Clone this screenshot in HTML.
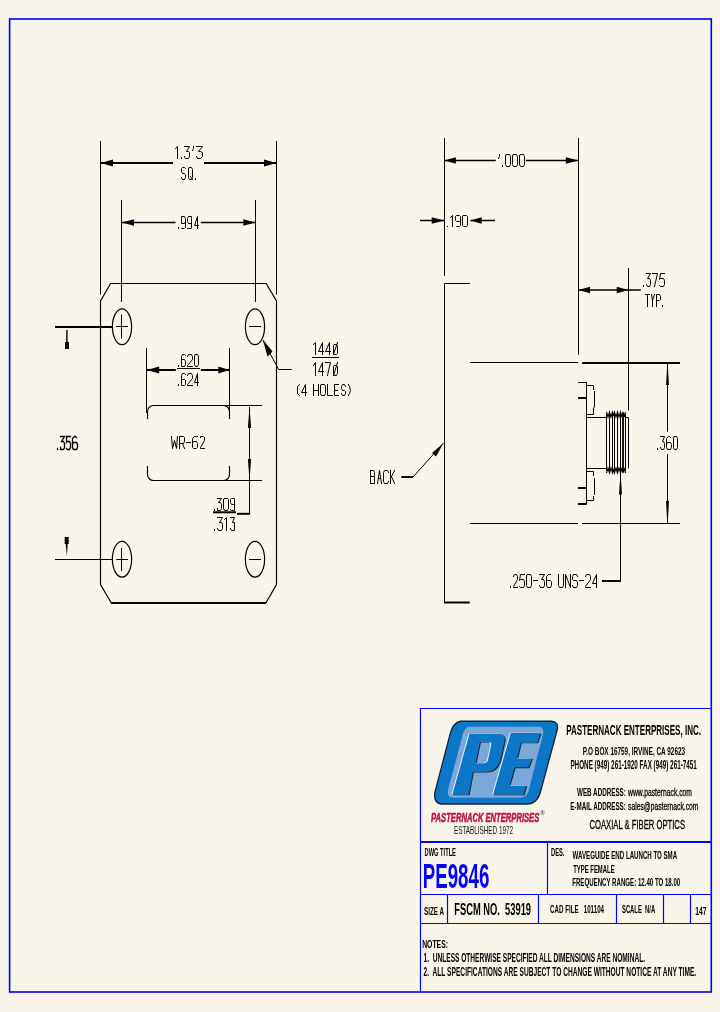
<!DOCTYPE html>
<html><head><meta charset="utf-8"><style>
html,body{margin:0;padding:0;background:#f9f5eb;}
svg{display:block;will-change:transform;}
text{font-family:"Liberation Sans",sans-serif;fill:#000;}
.cad{font-weight:normal;fill:#000;}
.cadb{font-weight:normal;fill:#000;}
.tb{font-weight:bold;fill:#000;}
.tbn{font-weight:normal;fill:#111;}
.tbm{font-weight:normal;fill:#000;stroke:#000;stroke-width:0.3px;}
.red{font-weight:bold;font-style:italic;fill:#b81845;stroke:#b81845;stroke-width:0.55px;}
.pe{font-weight:bold;fill:#0000ff;}
</style></head><body>
<svg width="720" height="1012" viewBox="0 0 720 1012">
<rect x="9.6" y="19" width="701.7" height="973" fill="none" stroke="#0000ff" stroke-width="1.6"/>
<g stroke="#000" stroke-width="1" fill="none">
<path d="M100.5 141V294.5 M276.5 141V294.5 M121.5 200V302 M255.5 200V302"/>
<path d="M100.5 163H173 M204 163H276.5" stroke-width="2"/>
<path d="M121.5 222.5H175.5 M200.8 222.5H255.5" stroke-width="1.3"/>
<path d="M100.5 301 L110.6 283.5 H266.2 L276.5 301 V584.5 L265.8 603 H111.3 L100.5 584.5 Z" stroke-width="1.2"/>
<path d="M111.3 603 H265.8" stroke-width="2"/>
<ellipse cx="122" cy="326.8" rx="9.6" ry="17.9" stroke-width="1.2"/>
<ellipse cx="255" cy="326.8" rx="9.6" ry="17.9" stroke-width="1.2"/>
<ellipse cx="122" cy="559.2" rx="9.6" ry="17.9" stroke-width="1.2"/>
<ellipse cx="255" cy="559.2" rx="9.6" ry="17.9" stroke-width="1.2"/>
<path d="M116 326.5H128 M121.5 314.5V338.5 M116.3 559.5H128 M121.5 548V571 M249 326.5H261 M249 559.5H261"/>
<path d="M55 327H112.3" stroke-width="2"/>
<path d="M55 559.5H112.3"/>
<path d="M146.5 348V413 M229.5 348V418"/>
<path d="M146.5 370H175.8 M200.8 370H229.5" stroke-width="2"/>
<path d="M177 368.5H200"/>
<path d="M147.5 419 V412 A6 6 0 0 1 153.5 405.5 H223.5 A6 6 0 0 1 229.5 411.5 V419 M147.5 466 V474.5 A6 6 0 0 0 153.5 480.5 H223.5 A6 6 0 0 0 229.5 474.5 V466" stroke-width="1.2"/>
<path d="M223 405.5H262 M223 480.5H262"/>
<path d="M249.5 407V513.5"/>
<path d="M213 512.3H236" stroke-width="2"/><path d="M237 513.8H250.3" stroke-width="2"/>
<path d="M263 340.5 L278.7 369.5 H291.7"/>
<path d="M312 357.5H339.2"/>
<path d="M444.5 138V275.8 M578.5 138V354.7 M628.5 268V410.5"/>
<path d="M444.5 160.5H495.8 M525.8 160.5H578.5" stroke-width="1.3"/>
<path d="M420 220.5H444 M470.3 220.5H495" stroke-width="1.3"/>
<path d="M578.5 290H640.8" stroke-width="1.3"/>
<path d="M470 283.5H444.5V602.5"/><path d="M444 602.5H469.7" stroke-width="2"/>
<path d="M470 362.5H578 M470 523.5H578 M582 523.5H680"/>
<path d="M582.2 363H680" stroke-width="2"/>
<path d="M667.5 363V431.7 M667.5 454V523"/>
<path d="M620.5 473V581"/><path d="M602 581H621" stroke-width="2"/>
<path d="M401.3 477H413" stroke-width="2"/><path d="M413 477L443.3 443.3"/>
<path d="M578 382.5H586.5 M586.5 382V504.5 M586.5 385.5H593.5V390 M594.5 391V407.5 M593.5 407.5V414.5H586.5 M586.5 417.5H606.5 M586.5 468.5H606.5 M628.5 417.5V468.5 M586.5 471.5H593.5V476 M594.5 478V495 M593.5 496V500.5H586.5"/>
<path d="M578 398H586.5 M578 488H586.5 M578 504H586.5" stroke-width="2"/>
<path d="M606.5 414V471"/>
<path d="M609.5 414V471"/>
<path d="M612.5 414V471"/>
<path d="M614.5 414V471"/>
<path d="M617.5 414V471"/>
<path d="M620.5 414V471"/>
<path d="M625.5 414V471"/>
<path d="M623 413V472" stroke-width="1.8"/>
<path d="M625.5 417.5H628.5"/>
<polyline points="606.5,412 608,417 609.5,412 611,417 612.5,412 613.5,416 614.5,412 616,417 617.5,412 619,417 620.5,412 621.8,417 623,412 624.2,417 625.5,412" stroke-width="1.1"/>
<polyline points="606.5,473 608,468 609.5,473 611,468 612.5,473 613.5,469 614.5,473 616,468 617.5,473 619,468 620.5,473 621.8,468 623,473 624.2,468 625.5,473" stroke-width="1.1"/>
</g>
<g fill="#000" stroke="none">
<polygon points="100.5,163 113,159.4 113,166.6"/>
<polygon points="276.5,163 264,159.4 264,166.6"/>
<polygon points="121.5,222.5 134,219.3 134,225.7"/>
<polygon points="255.5,222.5 243.3,219.3 243.3,225.7"/>
<polygon points="147,370 159.2,366.5 159.2,373.5"/>
<polygon points="229.5,370 218.3,366.5 218.3,373.5"/>
<polygon points="444.5,160.5 455.8,157.2 455.8,163.8"/>
<polygon points="578.5,160.5 565.8,157.2 565.8,163.8"/>
<polygon points="444.5,220.5 431.7,217.2 431.7,223.8"/>
<polygon points="470.3,220.5 481.7,217.2 481.7,223.8"/>
<polygon points="578.5,290 590,286.7 590,293.3"/>
<polygon points="628.5,290 616.7,286.7 616.7,293.3"/>
<rect x="65" y="342" width="4" height="7"/><path d="M66.2 330H67.6V342H66.2Z"/>
<rect x="64.7" y="537" width="4" height="7"/><polygon points="65.7,544 67.7,544 66.9,556"/>
<polygon points="248.9,414 250.1,414 251.1,428 247.9,428"/>
<polygon points="248.9,473 250.1,473 251.1,459 247.9,459"/>
<polygon points="666.9,370 668.1,370 669.0,385 666.0,385"/>
<polygon points="666.9,517 668.1,517 669.0,501 666.0,501"/>
<polygon points="619.9,481 621.1,481 622.0,494.5 619.0,494.5"/>
<polygon points="262.8,339.6 272.5,351.5 267.5,356.5"/>
<polygon points="443.3,443.3 432,453 436,456.5"/>
</g>
<g stroke="#0000ff" fill="none" stroke-width="1.2">
<path d="M420.5 992V708.5 H711"/>
<path d="M420.5 842H711" stroke-width="2"/>
<path d="M547.5 842V894.5 M420.5 894.5H711 M420.5 923.5H711 M447.5 894.5V923.5 M538.5 894.5V923.5 M616.5 894.5V923.5 M663.5 894.5V923.5 M690.5 894.5V923.5"/>
</g>
<g id="logo">
<path d="M460.5 721.25 H551 Q559 721.5 557.3 729.5 L540.7 791 Q537.5 804 527 804 H441 Q433.8 803 434.7 793 L450 734.4 Q453 722.5 460.5 721.25Z" fill="#0b77c6" stroke="#16233a" stroke-width="1.3"/>
<path d="M469.5 726.8 H538 Q544.5 727 543.2 733.5 L528.6 791 Q527 797.8 520 797.8 H453 Q446.5 797.5 448 790 L462.6 735 Q464.5 727 469.5 726.8Z" fill="#7ba8d9"/>
<g fill-rule="evenodd" fill="#16233a" transform="translate(0.9 0.9)"><path d="M469.5 733.8 H499 Q506 734 504.5 741 L501 757 Q498 771.5 487 771.5 H472.9 L468.75 794.4 H452.4 Z M480 741.7 H488.5 Q491.8 741.7 491.1 745 L488 760 Q487 763.3 483.5 763.3 H475.6 Z"/><path d="M510.8 733 H540.7 L537.2 742.4 H520.9 L517.1 758.4 H532 L528.5 767.3 H514.6 L509.4 785.7 H526.4 L523.6 794.4 H493.1 Z"/></g>
<g fill-rule="evenodd" fill="#eef4ff" transform="translate(-0.9 -0.2)"><path d="M469.5 733.8 H499 Q506 734 504.5 741 L501 757 Q498 771.5 487 771.5 H472.9 L468.75 794.4 H452.4 Z M480 741.7 H488.5 Q491.8 741.7 491.1 745 L488 760 Q487 763.3 483.5 763.3 H475.6 Z"/><path d="M510.8 733 H540.7 L537.2 742.4 H520.9 L517.1 758.4 H532 L528.5 767.3 H514.6 L509.4 785.7 H526.4 L523.6 794.4 H493.1 Z"/></g>
<g fill-rule="evenodd" fill="#0b77c6"><path d="M469.5 733.8 H499 Q506 734 504.5 741 L501 757 Q498 771.5 487 771.5 H472.9 L468.75 794.4 H452.4 Z M480 741.7 H488.5 Q491.8 741.7 491.1 745 L488 760 Q487 763.3 483.5 763.3 H475.6 Z"/><path d="M510.8 733 H540.7 L537.2 742.4 H520.9 L517.1 758.4 H532 L528.5 767.3 H514.6 L509.4 785.7 H526.4 L523.6 794.4 H493.1 Z"/></g>
</g>
<text x="540.5" y="814.5" font-size="5.5" fill="#555" font-family="Liberation Sans">®</text>
<path id="t1" d="M 175.5,148.5 L 177.5,146.5 L 177.5,158.5 M 181.5,157.5 L 181.5,158.5 M 184.5,146.5 L 189.5,146.5 L 186.5,151.5 L 188.5,151.5 L 189.5,152.5 L 189.5,156.5 L 188.5,158.5 L 185.5,158.5 L 184.5,156.5 M 193.5,146.5 L 193.5,148.5 L 192.5,150.5 M 196.5,146.5 L 202.5,146.5 L 198.5,151.5 L 200.5,151.5 L 202.5,152.5 L 202.5,156.5 L 200.5,158.5 L 197.5,158.5 L 196.5,156.5" fill="none" stroke="#000" stroke-width="1.0" stroke-linecap="square" stroke-linejoin="miter"/>
<path id="t2" d="M 185.5,168.5 L 184.5,167.5 L 182.5,167.5 L 181.5,168.5 L 181.5,171.5 L 182.5,173.5 L 184.5,173.5 L 185.5,174.5 L 185.5,177.5 L 184.5,179.5 L 182.5,179.5 L 181.5,177.5 M 189.5,167.5 L 191.5,167.5 L 192.5,169.5 L 192.5,177.5 L 191.5,179.5 L 189.5,179.5 L 188.5,177.5 L 188.5,169.5 Z M 190.5,176.5 L 192.5,179.5 M 195.5,178.5 L 195.5,179.5" fill="none" stroke="#000" stroke-width="1.0" stroke-linecap="square" stroke-linejoin="miter"/>
<path id="t3" d="M 178.5,227.5 L 178.5,228.5 M 185.5,221.5 L 184.5,223.5 L 181.5,223.5 L 181.5,221.5 L 181.5,218.5 L 181.5,216.5 L 184.5,216.5 L 185.5,218.5 L 185.5,227.5 L 184.5,228.5 L 181.5,228.5 L 181.5,228.5 M 191.5,221.5 L 191.5,223.5 L 188.5,223.5 L 187.5,221.5 L 187.5,218.5 L 188.5,216.5 L 191.5,216.5 L 191.5,218.5 L 191.5,227.5 L 191.5,228.5 L 188.5,228.5 L 187.5,228.5 M 197.5,228.5 L 197.5,216.5 L 194.5,225.5 L 198.5,225.5" fill="none" stroke="#000" stroke-width="1.0" stroke-linecap="square" stroke-linejoin="miter"/>
<path id="t4" d="M 178.5,365.5 L 178.5,366.5 M 185.5,355.5 L 184.5,354.5 L 182.5,354.5 L 181.5,356.5 L 181.5,364.5 L 181.5,366.5 L 184.5,366.5 L 185.5,364.5 L 185.5,361.5 L 184.5,359.5 L 181.5,359.5 L 181.5,361.5 M 187.5,356.5 L 188.5,354.5 L 191.5,354.5 L 192.5,356.5 L 192.5,359.5 L 187.5,365.5 L 187.5,366.5 L 192.5,366.5 M 195.5,354.5 L 197.5,354.5 L 198.5,356.5 L 198.5,364.5 L 197.5,366.5 L 195.5,366.5 L 194.5,364.5 L 194.5,356.5 Z" fill="none" stroke="#000" stroke-width="1.0" stroke-linecap="square" stroke-linejoin="miter"/>
<path id="t5" d="M 178.5,384.5 L 178.5,385.5 M 185.5,374.5 L 184.5,373.5 L 182.5,373.5 L 181.5,375.5 L 181.5,384.5 L 181.5,385.5 L 184.5,385.5 L 185.5,384.5 L 185.5,380.5 L 184.5,379.5 L 181.5,379.5 L 181.5,380.5 M 187.5,375.5 L 188.5,373.5 L 191.5,373.5 L 192.5,375.5 L 192.5,378.5 L 187.5,384.5 L 187.5,385.5 L 192.5,385.5 M 197.5,385.5 L 197.5,373.5 L 194.5,382.5 L 198.5,382.5" fill="none" stroke="#000" stroke-width="1.0" stroke-linecap="square" stroke-linejoin="miter"/>
<path id="t6" d="M 171.5,436.5 L 172.5,448.5 L 174.5,440.5 L 176.5,448.5 L 177.5,436.5 M 179.5,448.5 L 179.5,436.5 L 183.5,436.5 L 184.5,437.5 L 184.5,441.5 L 183.5,443.5 L 179.5,443.5 M 182.5,443.5 L 184.5,448.5 M 186.5,442.5 L 190.5,442.5 M 197.5,436.5 L 196.5,436.5 L 194.5,436.5 L 192.5,438.5 L 192.5,447.5 L 193.5,448.5 L 196.5,448.5 L 197.5,447.5 L 197.5,443.5 L 196.5,441.5 L 193.5,441.5 L 192.5,443.5 M 200.5,437.5 L 200.5,436.5 L 203.5,436.5 L 204.5,437.5 L 204.5,440.5 L 200.5,447.5 L 200.5,448.5 L 204.5,448.5" fill="none" stroke="#000" stroke-width="1.0" stroke-linecap="square" stroke-linejoin="miter"/>
<path id="t7" d="M 214.5,509.5 L 214.5,510.5 M 217.5,498.5 L 221.5,498.5 L 218.5,502.5 L 220.5,502.5 L 221.5,504.5 L 221.5,508.5 L 220.5,510.5 L 217.5,510.5 L 217.5,508.5 M 224.5,498.5 L 227.5,498.5 L 228.5,499.5 L 228.5,508.5 L 227.5,510.5 L 224.5,510.5 L 223.5,508.5 L 223.5,499.5 Z M 234.5,502.5 L 234.5,504.5 L 231.5,504.5 L 230.5,502.5 L 230.5,499.5 L 231.5,498.5 L 234.5,498.5 L 234.5,499.5 L 234.5,508.5 L 234.5,510.5 L 231.5,510.5 L 230.5,509.5" fill="none" stroke="#000" stroke-width="1.0" stroke-linecap="square" stroke-linejoin="miter"/>
<path id="t8" d="M 214.5,529.5 L 214.5,530.5 M 217.5,517.5 L 222.5,517.5 L 219.5,522.5 L 221.5,522.5 L 222.5,524.5 L 222.5,528.5 L 221.5,530.5 L 218.5,530.5 L 217.5,528.5 M 224.5,519.5 L 226.5,517.5 L 226.5,530.5 M 230.5,517.5 L 234.5,517.5 L 232.5,522.5 L 234.5,522.5 L 234.5,524.5 L 234.5,528.5 L 234.5,530.5 L 231.5,530.5 L 230.5,528.5" fill="none" stroke="#000" stroke-width="1.0" stroke-linecap="square" stroke-linejoin="miter"/>
<path id="t9" d="M 57.5,448.5 L 57.5,449.5 M 60.5,436.5 L 64.5,436.5 L 61.5,441.5 L 63.5,441.5 L 64.5,443.5 L 64.5,447.5 L 63.5,449.5 L 60.5,449.5 L 60.5,447.5 M 70.5,436.5 L 66.5,436.5 L 66.5,442.5 L 67.5,441.5 L 69.5,441.5 L 70.5,443.5 L 70.5,447.5 L 69.5,449.5 L 67.5,449.5 L 66.5,448.5 M 76.5,437.5 L 75.5,436.5 L 74.5,436.5 L 72.5,438.5 L 72.5,447.5 L 73.5,449.5 L 76.5,449.5 L 77.5,447.5 L 77.5,444.5 L 76.5,442.5 L 73.5,442.5 L 72.5,444.5" fill="none" stroke="#000" stroke-width="1.3" stroke-linecap="square" stroke-linejoin="miter"/>
<path id="t10" d="M 313.5,344.5 L 315.5,342.5 L 315.5,354.5 M 322.5,354.5 L 322.5,342.5 L 318.5,351.5 L 323.5,351.5 M 329.5,354.5 L 329.5,342.5 L 325.5,351.5 L 330.5,351.5 M 334.5,344.5 L 336.5,344.5 L 337.5,346.5 L 337.5,353.5 L 336.5,354.5 L 334.5,354.5 L 333.5,353.5 L 333.5,346.5 Z M 337.5,342.5 L 333.5,354.5" fill="none" stroke="#000" stroke-width="1.0" stroke-linecap="square" stroke-linejoin="miter"/>
<path id="t11" d="M 313.5,365.5 L 315.5,362.5 L 315.5,375.5 M 322.5,375.5 L 322.5,362.5 L 318.5,371.5 L 323.5,371.5 M 325.5,362.5 L 330.5,362.5 L 327.5,375.5 M 334.5,365.5 L 336.5,365.5 L 337.5,366.5 L 337.5,373.5 L 336.5,375.5 L 334.5,375.5 L 333.5,373.5 L 333.5,366.5 Z M 337.5,362.5 L 333.5,375.5" fill="none" stroke="#000" stroke-width="1.0" stroke-linecap="square" stroke-linejoin="miter"/>
<path id="t12" d="M 299.5,384.5 L 297.5,386.5 L 297.5,390.5 L 297.5,393.5 L 299.5,395.5 M 305.5,395.5 L 305.5,384.5 L 301.5,392.5 L 306.5,392.5 M 313.5,384.5 L 313.5,395.5 M 318.5,384.5 L 318.5,395.5 M 313.5,390.5 L 318.5,390.5 M 321.5,384.5 L 324.5,384.5 L 325.5,386.5 L 325.5,393.5 L 324.5,395.5 L 321.5,395.5 L 320.5,393.5 L 320.5,386.5 Z M 327.5,384.5 L 327.5,395.5 L 332.5,395.5 M 338.5,384.5 L 334.5,384.5 L 334.5,395.5 L 338.5,395.5 M 334.5,390.5 L 337.5,390.5 M 345.5,386.5 L 344.5,384.5 L 342.5,384.5 L 341.5,386.5 L 341.5,388.5 L 342.5,390.5 L 344.5,390.5 L 345.5,391.5 L 345.5,393.5 L 344.5,395.5 L 342.5,395.5 L 341.5,393.5 M 348.5,384.5 L 349.5,386.5 L 350.5,390.5 L 349.5,393.5 L 348.5,395.5" fill="none" stroke="#000" stroke-width="1.0" stroke-linecap="square" stroke-linejoin="miter"/>
<path id="t13" d="M 447.5,226.5 L 447.5,226.5 M 450.5,217.5 L 452.5,215.5 L 452.5,226.5 M 460.5,220.5 L 459.5,221.5 L 456.5,221.5 L 455.5,220.5 L 455.5,216.5 L 456.5,215.5 L 459.5,215.5 L 460.5,216.5 L 460.5,225.5 L 459.5,226.5 L 456.5,226.5 L 456.5,226.5 M 463.5,215.5 L 466.5,215.5 L 467.5,216.5 L 467.5,225.5 L 466.5,226.5 L 463.5,226.5 L 462.5,225.5 L 462.5,216.5 Z" fill="none" stroke="#000" stroke-width="1.0" stroke-linecap="square" stroke-linejoin="miter"/>
<path id="t14" d="M 499.5,154.5 L 499.5,156.5 L 498.5,158.5 M 502.5,165.5 L 502.5,166.5 M 506.5,154.5 L 509.5,154.5 L 510.5,156.5 L 510.5,164.5 L 509.5,166.5 L 506.5,166.5 L 505.5,164.5 L 505.5,156.5 Z M 513.5,154.5 L 516.5,154.5 L 517.5,156.5 L 517.5,164.5 L 516.5,166.5 L 513.5,166.5 L 512.5,164.5 L 512.5,156.5 Z M 520.5,154.5 L 523.5,154.5 L 524.5,156.5 L 524.5,164.5 L 523.5,166.5 L 520.5,166.5 L 519.5,164.5 L 519.5,156.5 Z" fill="none" stroke="#000" stroke-width="1.0" stroke-linecap="square" stroke-linejoin="miter"/>
<path id="t15" d="M 643.5,285.5 L 643.5,286.5 M 646.5,273.5 L 650.5,273.5 L 647.5,278.5 L 649.5,278.5 L 650.5,280.5 L 650.5,284.5 L 649.5,286.5 L 647.5,286.5 L 646.5,284.5 M 652.5,273.5 L 657.5,273.5 L 654.5,286.5 M 664.5,273.5 L 660.5,273.5 L 659.5,279.5 L 660.5,278.5 L 663.5,278.5 L 664.5,280.5 L 664.5,284.5 L 663.5,286.5 L 660.5,286.5 L 659.5,285.5" fill="none" stroke="#000" stroke-width="1.0" stroke-linecap="square" stroke-linejoin="miter"/>
<path id="t16" d="M 645.5,294.5 L 649.5,294.5 M 647.5,294.5 L 647.5,306.5 M 651.5,294.5 L 652.5,300.5 L 654.5,294.5 M 652.5,300.5 L 652.5,306.5 M 656.5,306.5 L 656.5,294.5 L 659.5,294.5 L 660.5,296.5 L 660.5,299.5 L 659.5,300.5 L 656.5,300.5 M 662.5,305.5 L 662.5,306.5" fill="none" stroke="#000" stroke-width="1.0" stroke-linecap="square" stroke-linejoin="miter"/>
<path id="t17" d="M 657.5,448.5 L 657.5,449.5 M 660.5,436.5 L 664.5,436.5 L 662.5,441.5 L 663.5,441.5 L 664.5,443.5 L 664.5,447.5 L 663.5,449.5 L 661.5,449.5 L 660.5,447.5 M 670.5,437.5 L 669.5,436.5 L 668.5,436.5 L 666.5,438.5 L 666.5,447.5 L 667.5,449.5 L 670.5,449.5 L 671.5,447.5 L 671.5,444.5 L 670.5,442.5 L 667.5,442.5 L 666.5,444.5 M 674.5,436.5 L 676.5,436.5 L 677.5,438.5 L 677.5,447.5 L 676.5,449.5 L 674.5,449.5 L 673.5,447.5 L 673.5,438.5 Z" fill="none" stroke="#000" stroke-width="1.0" stroke-linecap="square" stroke-linejoin="miter"/>
<path id="t18" d="M 510.5,586.5 L 510.5,587.5 M 513.5,576.5 L 514.5,574.5 L 516.5,574.5 L 517.5,576.5 L 517.5,579.5 L 513.5,586.5 L 513.5,587.5 L 517.5,587.5 M 524.5,574.5 L 520.5,574.5 L 519.5,580.5 L 520.5,579.5 L 523.5,579.5 L 524.5,581.5 L 524.5,585.5 L 523.5,587.5 L 520.5,587.5 L 519.5,586.5 M 527.5,574.5 L 530.5,574.5 L 531.5,576.5 L 531.5,585.5 L 530.5,587.5 L 527.5,587.5 L 526.5,585.5 L 526.5,576.5 Z M 533.5,580.5 L 537.5,580.5 M 539.5,574.5 L 544.5,574.5 L 541.5,579.5 L 543.5,579.5 L 544.5,581.5 L 544.5,585.5 L 543.5,587.5 L 540.5,587.5 L 539.5,585.5 M 550.5,574.5 L 549.5,574.5 L 548.5,574.5 L 546.5,576.5 L 546.5,585.5 L 547.5,587.5 L 550.5,587.5 L 551.5,585.5 L 551.5,581.5 L 550.5,580.5 L 547.5,580.5 L 546.5,581.5 M 558.5,574.5 L 558.5,585.5 L 559.5,587.5 L 562.5,587.5 L 563.5,585.5 L 563.5,574.5 M 565.5,587.5 L 565.5,574.5 L 570.5,587.5 L 570.5,574.5 M 577.5,576.5 L 576.5,574.5 L 573.5,574.5 L 572.5,576.5 L 572.5,579.5 L 573.5,580.5 L 576.5,580.5 L 577.5,582.5 L 577.5,585.5 L 576.5,587.5 L 573.5,587.5 L 572.5,585.5 M 579.5,580.5 L 583.5,580.5 M 585.5,576.5 L 586.5,574.5 L 589.5,574.5 L 590.5,576.5 L 590.5,579.5 L 585.5,586.5 L 585.5,587.5 L 590.5,587.5 M 596.5,587.5 L 596.5,574.5 L 592.5,583.5 L 596.5,583.5" fill="none" stroke="#000" stroke-width="1.0" stroke-linecap="square" stroke-linejoin="miter"/>
<path id="t19" d="M 370.5,470.5 L 370.5,483.5 L 374.5,483.5 L 374.5,481.5 L 374.5,478.5 L 374.5,476.5 L 370.5,476.5 M 370.5,470.5 L 373.5,470.5 L 374.5,472.5 L 374.5,475.5 L 373.5,476.5 M 377.5,483.5 L 379.5,470.5 L 381.5,483.5 M 378.5,478.5 L 380.5,478.5 M 388.5,472.5 L 387.5,470.5 L 384.5,470.5 L 383.5,472.5 L 383.5,481.5 L 384.5,483.5 L 387.5,483.5 L 388.5,481.5 M 390.5,470.5 L 390.5,483.5 M 394.5,470.5 L 390.5,478.5 M 391.5,476.5 L 394.5,483.5" fill="none" stroke="#000" stroke-width="1.0" stroke-linecap="square" stroke-linejoin="miter"/>
<text id="t20" class="tb" x="566.20" y="735.40" font-size="13.79" textLength="134.81" lengthAdjust="spacingAndGlyphs" xml:space="preserve">PASTERNACK ENTERPRISES, INC.</text>
<text id="t21" class="tb" x="582.80" y="755.00" font-size="10.13" textLength="102.25" lengthAdjust="spacingAndGlyphs" xml:space="preserve">P.O BOX 16759, IRVINE, CA 92623</text>
<text id="t22" class="tb" x="570.40" y="769.00" font-size="11.92" textLength="126.43" lengthAdjust="spacingAndGlyphs" xml:space="preserve">PHONE (949) 261-1920 FAX (949) 261-7451</text>
<text id="t23" class="tb" x="577.00" y="796.00" font-size="10.13" textLength="48.85" lengthAdjust="spacingAndGlyphs" xml:space="preserve">WEB ADDRESS:</text>
<text id="t23b" class="tbm" x="628.00" y="796.00" font-size="10.13" textLength="64.00" lengthAdjust="spacingAndGlyphs" xml:space="preserve">www.pasternack.com</text>
<text id="t24" class="tb" x="570.20" y="810.20" font-size="10.05" textLength="55.64" lengthAdjust="spacingAndGlyphs" xml:space="preserve">E-MAIL ADDRESS:</text>
<text id="t24b" class="tbm" x="628.00" y="810.20" font-size="10.05" textLength="70.52" lengthAdjust="spacingAndGlyphs" xml:space="preserve">sales@pasternack.com</text>
<text id="t25" class="tbm" x="589.40" y="829.20" font-size="11.88" textLength="95.63" lengthAdjust="spacingAndGlyphs" xml:space="preserve">COAXIAL &amp; FIBER OPTICS</text>
<text id="t26" class="red" x="431.10" y="821.80" font-size="11.92" textLength="108.14" lengthAdjust="spacingAndGlyphs" xml:space="preserve">PASTERNACK ENTERPRISES</text>
<text id="t27" class="tbn" x="454.00" y="834.20" font-size="10.05" textLength="59.00" lengthAdjust="spacingAndGlyphs" xml:space="preserve">ESTABLISHED 1972</text>
<text id="t28" class="tb" x="424.50" y="855.60" font-size="10.00" textLength="31.44" lengthAdjust="spacingAndGlyphs" xml:space="preserve">DWG TITLE</text>
<text id="t29" class="pe" x="422.80" y="887.80" font-size="34.43" textLength="66.50" lengthAdjust="spacingAndGlyphs" xml:space="preserve">PE9846</text>
<text id="t30" class="tb" x="551.00" y="856.40" font-size="10.03" textLength="13.38" lengthAdjust="spacingAndGlyphs" xml:space="preserve">DES.</text>
<text id="t31" class="tb" x="572.60" y="858.60" font-size="10.02" textLength="104.55" lengthAdjust="spacingAndGlyphs" xml:space="preserve">WAVEGUIDE END LAUNCH TO SMA</text>
<text id="t32" class="tb" x="573.20" y="873.40" font-size="10.00" textLength="41.46" lengthAdjust="spacingAndGlyphs" xml:space="preserve">TYPE FEMALE</text>
<text id="t33" class="tb" x="572.20" y="886.20" font-size="10.02" textLength="108.04" lengthAdjust="spacingAndGlyphs" xml:space="preserve">FREQUENCY RANGE: 12.40 TO 18.00</text>
<text id="t34" class="tb" x="424.00" y="915.20" font-size="10.02" textLength="20.08" lengthAdjust="spacingAndGlyphs" xml:space="preserve">SIZE A</text>
<text id="t35" class="tb" x="454.20" y="915.40" font-size="15.74" textLength="76.84" lengthAdjust="spacingAndGlyphs" xml:space="preserve">FSCM NO.  53919</text>
<text id="t36" class="tb" x="550.00" y="913.00" font-size="10.04" textLength="54.05" lengthAdjust="spacingAndGlyphs" xml:space="preserve">CAD FILE   101104</text>
<text id="t37" class="tb" x="622.00" y="913.00" font-size="10.04" textLength="33.10" lengthAdjust="spacingAndGlyphs" xml:space="preserve">SCALE  N/A</text>
<text id="t38" class="tb" x="695.20" y="915.00" font-size="10.04" textLength="11.22" lengthAdjust="spacingAndGlyphs" xml:space="preserve">147</text>
<text id="t39" class="tb" x="422.20" y="947.60" font-size="10.03" textLength="25.78" lengthAdjust="spacingAndGlyphs" xml:space="preserve">NOTES:</text>
<text id="t40" class="tb" x="423.60" y="962.40" font-size="11.92" textLength="221.40" lengthAdjust="spacingAndGlyphs" xml:space="preserve">1.  UNLESS OTHERWISE SPECIFIED ALL DIMENSIONS ARE NOMINAL.</text>
<text id="t41" class="tb" x="423.60" y="976.40" font-size="11.92" textLength="272.61" lengthAdjust="spacingAndGlyphs" xml:space="preserve">2.  ALL SPECIFICATIONS ARE SUBJECT TO CHANGE WITHOUT NOTICE AT ANY TIME.</text>
</svg></body></html>
